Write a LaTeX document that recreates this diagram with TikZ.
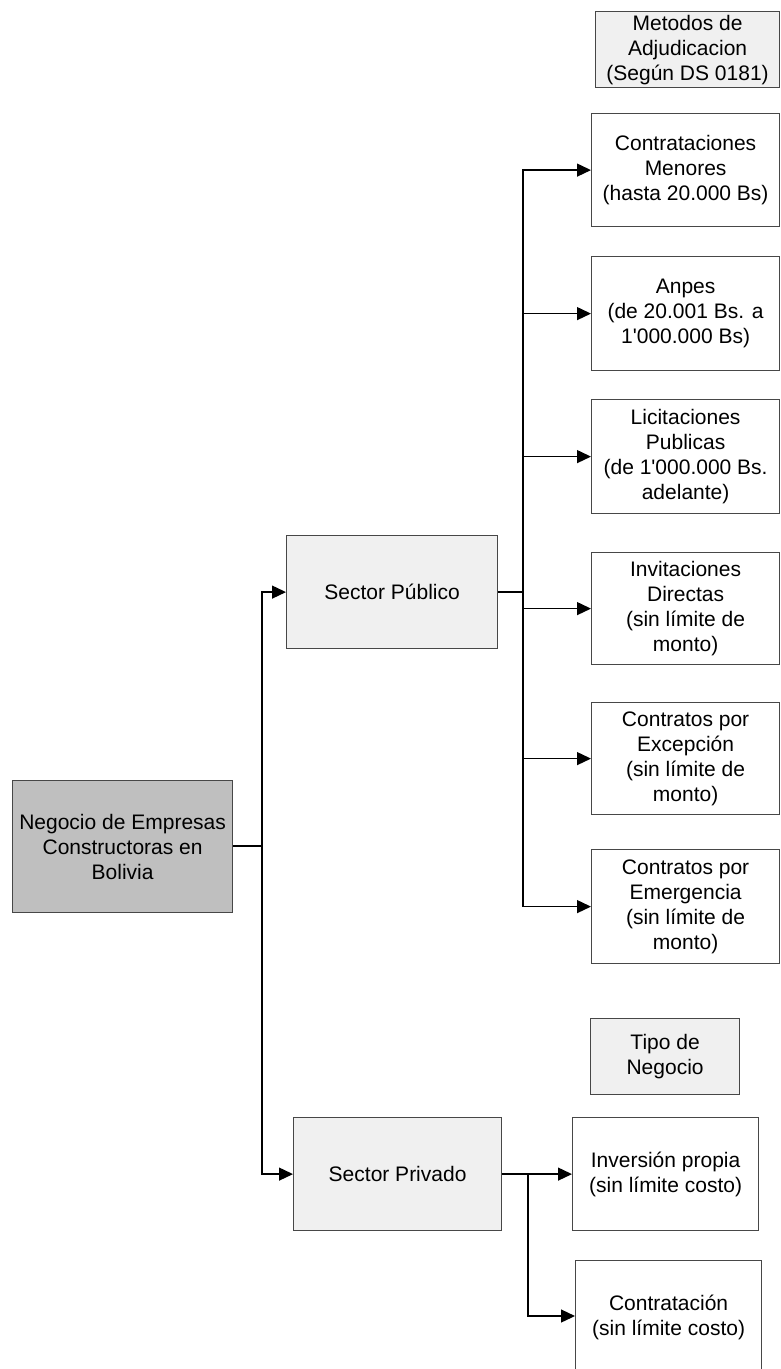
\documentclass[tikz,border=0pt]{standalone}
\usepackage{fontspec}
\setmainfont{Liberation Sans}[Ligatures=TeXOff]
\usetikzlibrary{arrows.meta}
\begin{document}
\begin{tikzpicture}[x=1pt,y=-1pt,
  box/.style={draw=black!72,line width=1.2pt,rectangle,align=center,inner sep=2pt,
    font=\fontsize{21}{25}\selectfont,anchor=north west},
  gbox/.style={box,fill=black!6},
  dbox/.style={box,fill=black!25},
  conn/.style={draw=black,line width=1.3pt,-{Triangle[length=14pt,width=13pt]}},
  plain/.style={draw=black,line width=1.3pt}]
\useasboundingbox (0,0) rectangle (780,1369);
\clip (0,0) rectangle (780,1369);
\fill[white] (0,0) rectangle (780,1369);
% nodes
\node[gbox,minimum width=184pt,minimum height=76pt] (met) at (595,11) {Metodos de\\Adjudicacion\\(Según DS 0181)};
\node[box,minimum width=188pt,minimum height=113pt] (c1) at (591,113) {Contrataciones\\Menores\\(hasta 20.000 Bs)};
\node[box,minimum width=188pt,minimum height=114pt] (c2) at (591,256) {Anpes\\(de 20.001 Bs. a\\1'000.000 Bs)};
\node[box,minimum width=188pt,minimum height=114pt] (c3) at (591,399) {Licitaciones\\Publicas\\(de 1'000.000 Bs.\\adelante)};
\node[box,minimum width=188pt,minimum height=112pt] (c4) at (591,552) {Invitaciones\\Directas\\(sin límite de\\monto)};
\node[box,minimum width=188pt,minimum height=112pt] (c5) at (591,702) {Contratos por\\Excepción\\(sin límite de\\monto)};
\node[box,minimum width=188pt,minimum height=114pt] (c6) at (591,849) {Contratos por\\Emergencia\\(sin límite de\\monto)};
\node[gbox,minimum width=211pt,minimum height=113pt] (sp) at (286,535) {Sector Público};
\node[dbox,minimum width=220pt,minimum height=132pt] (root) at (12,780) {Negocio de Empresas\\Constructoras en\\Bolivia};
\node[gbox,minimum width=149pt,minimum height=76pt] (tipo) at (590,1018) {Tipo de\\Negocio};
\node[gbox,minimum width=208pt,minimum height=113pt] (spr) at (293,1117) {Sector Privado};
\node[box,minimum width=186pt,minimum height=113pt] (inv) at (572,1117) {Inversión propia\\(sin límite costo)};
\node[box,minimum width=186pt,minimum height=113pt] (con) at (575,1260) {Contratación\\(sin límite costo)};
% connectors
\coordinate (jr) at (262,846);
\coordinate (jp) at (523,591);
\coordinate (jq) at (528,1173);
\draw[plain] (root.east |- jr) -- (jr);
\draw[conn] (jr) |- (sp.west);
\draw[conn] (jr) |- (spr.west);
\draw[plain] (sp.east) -- (sp.east -| jp);
\foreach \n in {c1,c2,c3,c4,c5,c6}{
  \draw[conn] (sp.east -| jp) |- (\n.west);
}
\draw[conn] (spr.east) -- (inv.west);
\draw[conn] (jq) |- (con.west |- 0,1316);
\end{tikzpicture}
\end{document}
